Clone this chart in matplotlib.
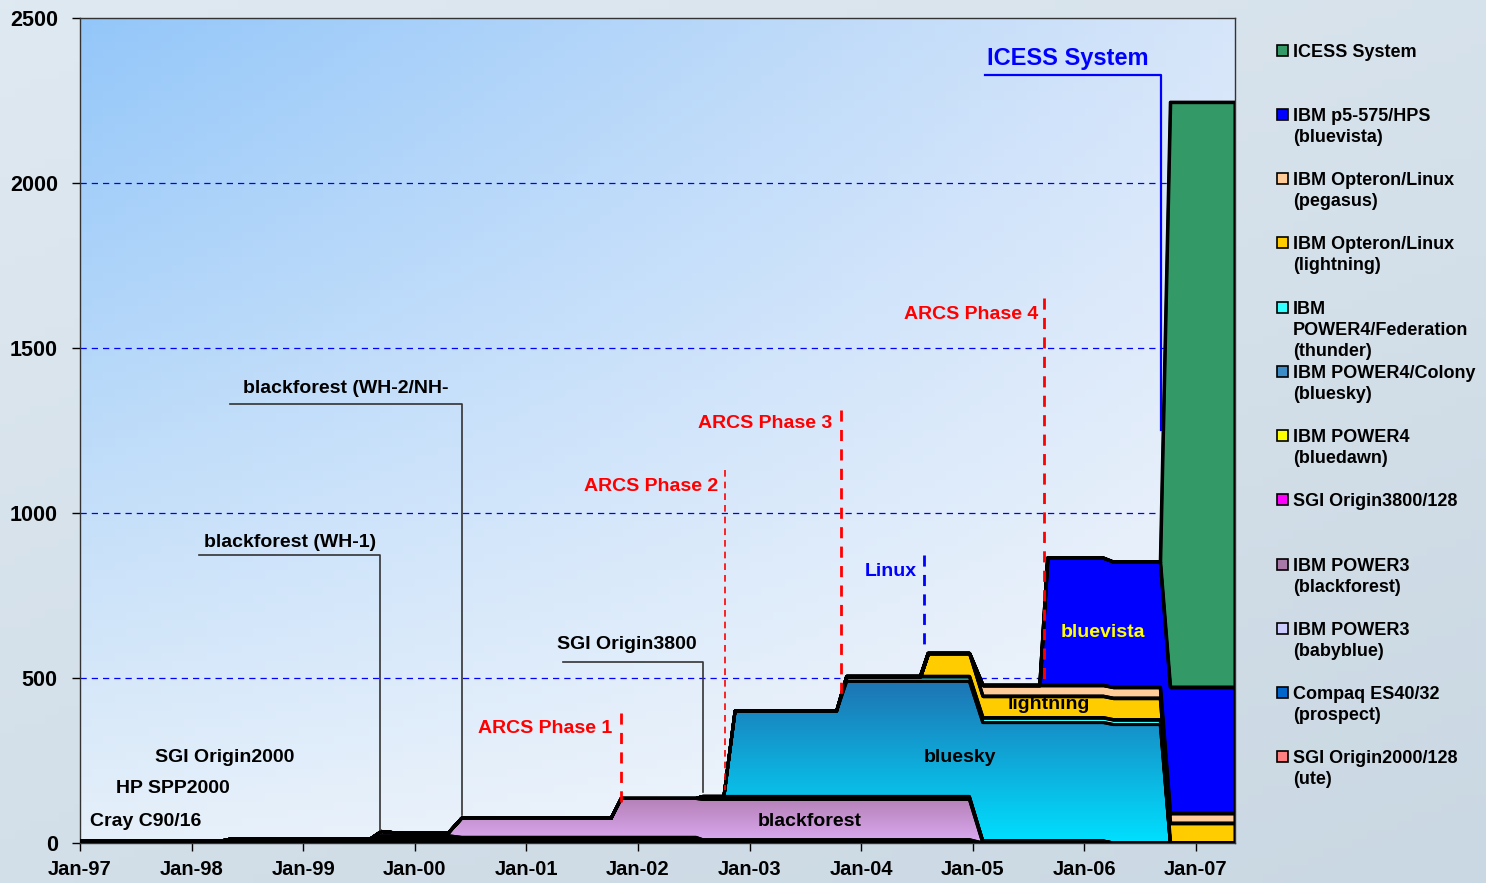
import matplotlib.pyplot as plt
import numpy as np
from matplotlib.patches import Rectangle
from matplotlib.collections import PathCollection
from matplotlib.colors import LinearSegmentedColormap

plt.rcParams["font.family"] = ["Liberation Sans", "DejaVu Sans"]
plt.rcParams["font.weight"] = "bold"

# knots in years since Jan-97
t = [0.00, 1.25, 1.35, 2.60, 2.70, 2.85, 2.95, 3.30, 3.42, 4.76, 4.85, 5.52, 5.58, 5.77,
     5.87, 6.78, 6.87, 7.53, 7.60, 7.97, 8.09, 8.60, 8.67, 9.17, 9.26, 9.68, 9.77, 10.35]

cray = [3, 3, 3, 3, 3, 3, 3, 3, 0, 0, 0, 0, 0, 0, 0, 0, 0, 0, 0, 0, 0, 0, 0, 0, 0, 0, 0, 0]
hp = [2, 2, 2, 2, 2, 2, 2, 2, 0, 0, 0, 0, 0, 0, 0, 0, 0, 0, 0, 0, 0, 0, 0, 0, 0, 0, 0, 0]
ute = [0, 0, 7, 7, 7, 7, 7, 7, 7, 7, 7, 7, 0, 0, 0, 0, 0, 0, 0, 0, 0, 0, 0, 0, 0, 0, 0, 0]
prospect = [0, 0, 0, 0, 5, 5, 5, 5, 5, 5, 5, 5, 5, 5, 5, 5, 5, 5, 5, 5, 0, 0, 0, 0, 0, 0, 0, 0]
babyblue = [0, 0, 0, 0, 5, 5, 5, 5, 5, 5, 5, 5, 5, 5, 5, 5, 5, 5, 5, 5, 0, 0, 0, 0, 0, 0, 0, 0]
blackforest = [0, 0, 0, 0, 13, 8, 8, 8, 58, 58, 118, 118, 122, 122, 122, 122, 122, 122, 122, 122,
               0, 0, 0, 0, 0, 0, 0, 0]
origin3800 = [0, 0, 0, 0, 0, 0, 0, 0, 0, 0, 0, 0, 6, 6, 6, 6, 6, 6, 6, 6, 6, 6, 6, 6, 0, 0, 0, 0]
bluedawn = [0, 0, 0, 0, 0, 0, 0, 0, 0, 0, 0, 0, 3, 3, 3, 3, 3, 3, 3, 3, 0, 0, 0, 0, 0, 0, 0, 0]
bluesky = [0, 0, 0, 0, 0, 0, 0, 0, 0, 0, 0, 0, 0, 0, 259, 259, 349, 349, 349, 349, 359, 359,
           359, 359, 359, 359, 0, 0]
thunder = [0, 0, 0, 0, 0, 0, 0, 0, 0, 0, 0, 0, 0, 0, 0, 0, 15, 15, 15, 15, 15, 15, 15, 15, 15, 15, 0, 0]
lightning = [0, 0, 0, 0, 0, 0, 0, 0, 0, 0, 0, 0, 0, 0, 0, 0, 0, 0, 70, 70, 65, 65, 65, 65, 65, 65,
             60, 60]
pegasus = [0, 0, 0, 0, 0, 0, 0, 0, 0, 0, 0, 0, 0, 0, 0, 0, 0, 0, 0, 0, 33, 33, 33, 33, 33, 33, 30, 30]
bluevista = [0, 0, 0, 0, 0, 0, 0, 0, 0, 0, 0, 0, 0, 0, 0, 0, 0, 0, 0, 0, 0, 0, 386, 386, 380, 380,
             382, 382]
icess = [0, 0, 0, 0, 0, 0, 0, 0, 0, 0, 0, 0, 0, 0, 0, 0, 0, 0, 0, 0, 0, 0, 0, 0, 0, 0, 1773, 1773]

series = [cray, hp, ute, prospect, babyblue, blackforest, origin3800, bluedawn,
          bluesky, thunder, lightning, pegasus, bluevista, icess]
colors = ["#808080", "#808080", "#FF8080", "#0066CC", "#CCCCFF", "#C090D0", "#FF00FF", "#FFFF00",
          "#1E9AD6", "#33FFFF", "#FFCC00", "#FFCC99", "#0000FF", "#339966"]

legend_labels = ["ICESS System", "IBM p5-575/HPS\n(bluevista)", "IBM Opteron/Linux\n(pegasus)",
                 "IBM Opteron/Linux\n(lightning)", "IBM\nPOWER4/Federation\n(thunder)",
                 "IBM POWER4/Colony\n(bluesky)", "IBM POWER4\n(bluedawn)", "SGI Origin3800/128",
                 "IBM POWER3\n(blackforest)", "IBM POWER3\n(babyblue)", "Compaq ES40/32\n(prospect)",
                 "SGI Origin2000/128\n(ute)"]
legend_colors = ["#339966", "#0000FF", "#FFCC99", "#FFCC00", "#33FFFF", "#3C8CC8", "#FFFF00",
                 "#FF00FF", "#A878A8", "#CCCCFF", "#0066CC", "#FF8080"]
legend_y = [50, 114, 178, 242, 307, 371, 435, 499, 564, 628, 692, 756]

x_ticks = list(range(11))
x_labels = ["Jan-97", "Jan-98", "Jan-99", "Jan-00", "Jan-01", "Jan-02", "Jan-03", "Jan-04",
            "Jan-05", "Jan-06", "Jan-07"]

W, H = 1486, 883
fig = plt.figure(figsize=(W / 100, H / 100), dpi=100)

# figure background
bg = fig.add_axes([0, 0, 1, 1], zorder=-10)
gy, gx = np.mgrid[0:1:100j, 0:1:100j]
bg_cmap = LinearSegmentedColormap.from_list("bg", ["#cad8e3", "#dfe9f1"])
bg.imshow(0.6 * gy + 0.4 * (1 - gx), cmap=bg_cmap, aspect="auto", origin="lower", extent=[0, 1, 0, 1])
bg.axis("off")

ax = fig.add_axes([80 / W, (H - 843) / H, (1235 - 80) / W, (843 - 18) / H])

# axes background gradient (corner colours)
c_tl = np.array([0.58, 0.78, 0.98])
c_tr = np.array([0.84, 0.90, 0.98])
c_bl = np.array([0.90, 0.94, 0.98])
c_br = np.array([0.96, 0.97, 0.985])
u = gx[..., None]
v = gy[..., None]
img = (c_bl * (1 - u) * (1 - v) + c_br * u * (1 - v) + c_tl * (1 - u) * v + c_tr * u * v)
ax.imshow(img, aspect="auto", origin="lower", extent=[0, 10.35, 0, 2500], zorder=0)

polys = ax.stackplot(t, *series, colors=colors, edgecolor="black", linewidth=2.2, zorder=2)


# gradient fills for blackforest and bluesky
def gradient_fill(poly, top_color, bottom_color, ymax):
    cm = LinearSegmentedColormap.from_list("g", [bottom_color, top_color])
    grad = np.linspace(0, 1, 200).reshape(-1, 1)
    im = ax.imshow(grad, cmap=cm, aspect="auto", origin="lower",
                   extent=[0, 10.35, 0, ymax], zorder=2.5)
    im.set_clip_path(poly.get_paths()[0], transform=ax.transData)


gradient_fill(polys[5], "#B07CB0", "#DCAAF2", 150)
gradient_fill(polys[8], "#1F6FB0", "#00E0FF", 510)
outline = PathCollection([p.get_paths()[0] for p in polys], facecolor="none", edgecolor="black",
                         linewidth=2.2, zorder=3, transform=ax.transData)
ax.add_collection(outline)
ax.set_xlim(0, 10.35)
ax.set_ylim(0, 2500)

for yv in [500, 1000, 1500, 2000]:
    ax.axhline(yv, color="#0000FF", linewidth=0.9, linestyle=(0, (5, 4)), zorder=1)

ax.set_xticks(x_ticks)
ax.set_xticklabels(x_labels, fontsize=14.5, fontweight="bold")
ax.set_yticks([0, 500, 1000, 1500, 2000, 2500])
ax.set_yticklabels(["0", "500", "1000", "1500", "2000", "2500"], fontsize=15.5, fontweight="bold")
ax.tick_params(axis="both", direction="out", length=6, width=1)
ax.tick_params(axis="x", pad=6)
ax.tick_params(axis="y", pad=10)
for s in ax.spines.values():
    s.set_linewidth(1)
    s.set_color("#333333")

# annotations
txt = dict(ha="left", va="center_baseline", zorder=5)
line_kw = dict(color="#333333", linewidth=1.2, zorder=4)
ax.text(8.127, 2385, "ICESS System", color="#0000FF", fontsize=17, **txt)
ax.plot([8.11, 9.686, 9.686], [2327, 2327, 1251], color="#0000FF", linewidth=1.6, zorder=4)

red_kw = dict(color="#FF0000", linewidth=2, linestyle=(0, (4, 3)), zorder=4)
rtxt = dict(ha="right", va="center_baseline", zorder=5)
ax.text(8.584, 1609, "ARCS Phase 4", color="#FF0000", fontsize=14, **rtxt)
ax.plot([8.638, 8.638], [1652, 494], **red_kw)
ax.text(6.738, 1276, "ARCS Phase 3", color="#FF0000", fontsize=14, **rtxt)
ax.plot([6.819, 6.819], [1312, 448], **red_kw)
ax.text(5.717, 1085, "ARCS Phase 2", color="#FF0000", fontsize=14, **rtxt)
ax.plot([5.78, 5.78], [1130, 161], color="#FF0000", linewidth=1.2, linestyle=(0, (4, 3)), zorder=4)
ax.text(4.767, 352, "ARCS Phase 1", color="#FF0000", fontsize=14, **rtxt)
ax.plot([4.848, 4.848], [394, 121], **red_kw)

ax.text(7.5, 830, "Linux", color="#0000FF", fontsize=14, **rtxt)
ax.plot([7.563, 7.563], [873, 585], color="#0000FF", linewidth=2, linestyle=(0, (4, 3)), zorder=4)

ax.text(4.274, 609, "SGI Origin3800", color="black", fontsize=14, **txt)
ax.plot([4.328, 5.582, 5.582], [548, 548, 155], **line_kw)
ax.text(1.461, 1382, "blackforest (WH-2/NH-", color="black", fontsize=14, **txt)
ax.plot([1.344, 3.423, 3.423], [1330, 1330, 85], **line_kw)
ax.text(1.111, 918, "blackforest (WH-1)", color="black", fontsize=14, **txt)
ax.plot([1.066, 2.688, 2.688], [873, 873, 39], **line_kw)

ax.text(0.672, 264, "SGI Origin2000", color="black", fontsize=14, **txt)
ax.text(0.323, 170, "HP SPP2000", color="black", fontsize=14, **txt)
ax.text(0.09, 70, "Cray C90/16", color="black", fontsize=14, **txt)

ctxt = dict(ha="center", va="center_baseline", zorder=6, fontsize=14)
ax.text(6.537, 70, "blackforest", color="black", **ctxt)
ax.text(7.885, 264, "bluesky", color="black", **ctxt)
ax.text(8.683, 427, "lightning", color="black", **ctxt)
ax.text(9.167, 645, "bluevista", color="#FFFF00", **ctxt)

# legend drawn by hand on the right
for label, col, yc in zip(legend_labels, legend_colors, legend_y):
    fig.patches.append(Rectangle((1277 / W, 1 - (yc + 5.5) / H), 11 / W, 11 / H,
                                 transform=fig.transFigure, facecolor=col,
                                 edgecolor="black", linewidth=1.2))
    fig.text(1293 / W, 1 - (yc - 6) / H, label, fontsize=13, fontweight="bold",
             ha="left", va="top", linespacing=1.3)

fig.savefig("out.png", dpi=100)
